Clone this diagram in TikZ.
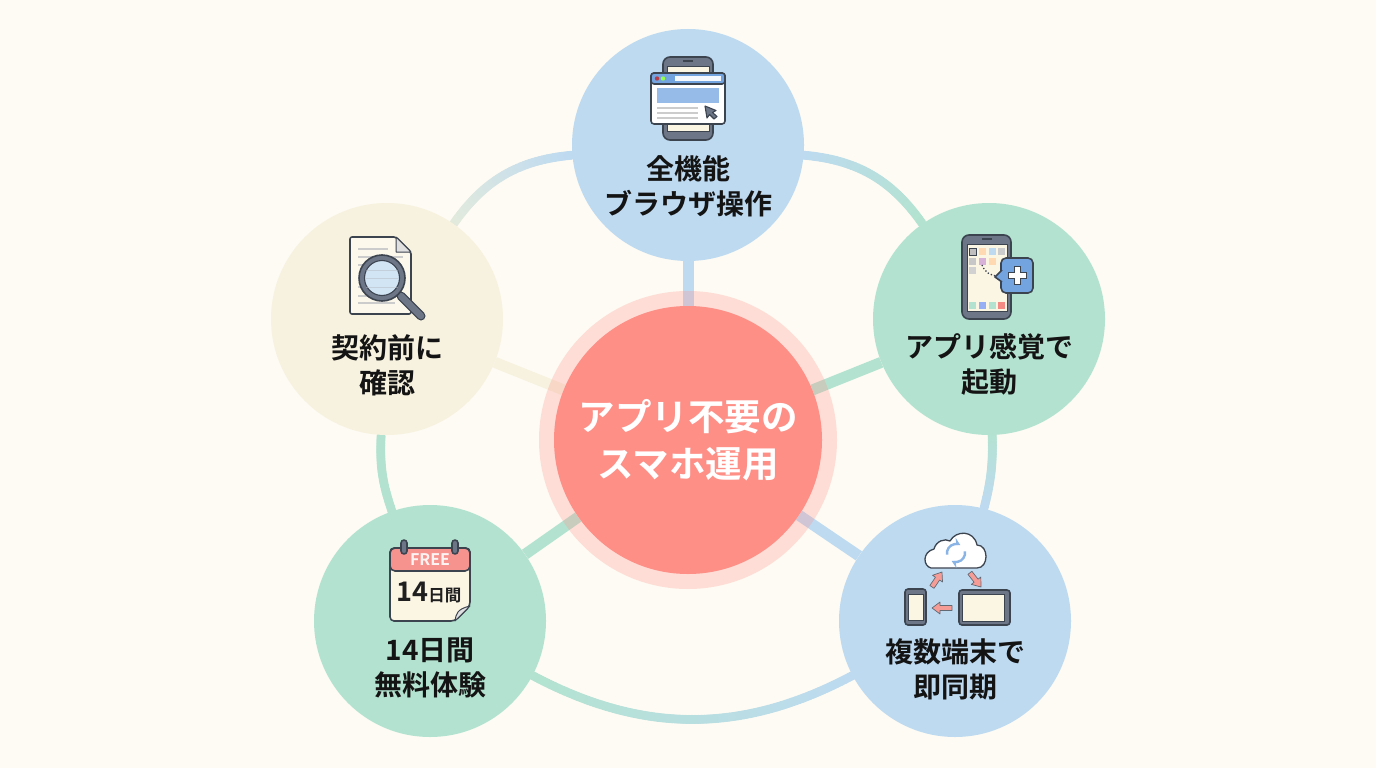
\documentclass[tikz,border=0pt]{standalone}
\usepackage{fontspec}
\setmainfont{Noto Sans CJK JP}[BoldFont=* Bold]
\usetikzlibrary{positioning,backgrounds,decorations.markings,calc}
\definecolor{pagebg}{HTML}{FDFBF3}
\definecolor{hubred}{HTML}{FE8F87}
\definecolor{skyfill}{HTML}{BEDAF1}
\definecolor{mintfill}{HTML}{B3E3D0}
\definecolor{creamfill}{HTML}{F7F2DF}
\definecolor{palering}{HTML}{E4EBDC}
\definecolor{inkline}{HTML}{3C4450}
\definecolor{slate}{HTML}{6D7687}
\definecolor{paper}{HTML}{FBF5E4}
\definecolor{barblue}{HTML}{74A4E0}
\definecolor{softred}{HTML}{F58A84}
\tikzset{
  x=1pt,y=-1pt,
  petal/.style={circle,minimum size=232pt,inner sep=0pt},
  petaltext/.style={align=center,font=\bfseries\fontsize{28}{35}\selectfont,text=black!92},
  icon/.style={draw=inkline,line width=1.6pt,line join=round},
  thinrule/.style={line width=1.6pt,draw=black!20},
  spoke/.style={line width=11pt},
  arrowmark/.style={fill=softred!85,draw=inkline!80,line width=.7pt,line join=round},
  % ring piece whose colour runs from #1 to #2
  ringpart/.style n args={2}{
    decorate,decoration={markings,
      mark=between positions 0 and 1 step 1.5pt with {
        \pgfmathsetmacro{\mixval}{min(100,\pgfkeysvalueof{/pgf/decoration/mark info/sequence number}*1.5/\pgfdecoratedpathlength*100)}
        \fill[#2!\mixval!#1] (0,0) circle[radius=4.5];
      }}},
}
\newcommand{\fatarrow}[1]{(0,0) -- (-8,-6) -- (-8,-2.500) -- (-#1,-2.500) -- (-#1,2.500) -- (-8,2.500) -- (-8,6) -- cycle}
\begin{document}
\begin{tikzpicture}
  \useasboundingbox (0,0) rectangle (1376,768);
  \begin{scope}[on background layer]
    \fill[pagebg] (0,0) rectangle (1376,768);
  \end{scope}

  \node[circle,fill=hubred,fill opacity=.27,minimum size=298pt,inner sep=0pt] (halo) at (688,440) {};
  \node[circle,fill=hubred,minimum size=268pt,inner sep=0pt,text=white,align=center,
        font=\bfseries\fontsize{36.5}{47}\selectfont] (hub) at (688,440) {アプリ不要の\\スマホ運用};

  \node[petal,fill=skyfill] (browser) at (688,145) {};
  \node[petal,fill=mintfill] (launch) at (989,319) {};
  \node[petal,fill=skyfill] (sync) at (955,621) {};
  \node[petal,fill=mintfill] (trial) at (430,621) {};
  \node[petal,fill=creamfill] (check) at (387,319) {};

  \node[petaltext] (browsertext) at (688,186) {全機能\\ブラウザ操作};
  \node[petaltext] (launchtext) at (989,364.500) {アプリ感覚で\\起動};
  \node[petaltext] (synctext) at (955,669) {複数端末で\\即同期};
  \node[petaltext] (trialtext) at (430,668) {14日間\\無料体験};
  \node[petaltext] (checktext) at (387,365) {契約前に\\確認};

  \begin{scope}[on background layer]
    \path[postaction={ringpart={skyfill}{mintfill}}] (browser) to[bend left=25] (launch);
    \path[postaction={ringpart={mintfill}{skyfill}}] (launch) to[bend left=8] (sync);
    \path[postaction={ringpart={skyfill}{mintfill}}] (sync) to[bend left=28] (trial);
    \path[postaction={ringpart={mintfill}{mintfill}}] (trial) to[bend left=11] (check);
    \path[postaction={ringpart={palering}{skyfill}}] (check) to[bend left=25] (browser);
  \end{scope}

  \begin{scope}[on background layer]
    \draw[spoke,skyfill] (browser) -- (hub);
    \draw[spoke,mintfill] (launch) -- (hub);
    \draw[spoke,skyfill] (sync) -- (hub);
    \draw[spoke,mintfill] (trial) -- (hub);
    \draw[spoke,creamfill] (check) -- (hub);
  \end{scope}

  % phone with browser window
  \draw[icon,fill=slate,rounded corners=7] (663,57) rectangle (713,140);
  \draw[icon,fill=paper,line width=1pt] (667,67) rectangle (709,131);
  \draw[line width=1.6pt,inkline] (683,61) -- (693,61);
  \draw[icon,fill=white,rounded corners=3] (651,73) rectangle (725,124);
  \draw[icon,fill=barblue,rounded corners=3] (651,73) rectangle (725,84);
  \fill[white!85!skyfill] (675,76) rectangle (721,81);
  \fill[red!50!slate] (657,78.500) circle[radius=2.200];
  \fill[green!60!yellow!70!white] (663,78.500) circle[radius=2.200];
  \fill[barblue!75!white] (657,88) rectangle (719,103);
  \foreach \ypos in {108,113,118}
    \draw[thinrule] (657,\ypos) -- (698,\ypos);
  \draw[icon,fill=slate,line width=1.1pt] (705,106) -- (707,118) -- (709.500,114.500) -- (714,119) -- (717,116.500) -- (712.500,112.500) -- (716,110.500) -- cycle;

  % phone with plus bubble
  \draw[icon,fill=slate,rounded corners=7] (962,235) rectangle (1011,319);
  \draw[icon,fill=paper,line width=1pt] (967,244) rectangle (1007,311);
  \draw[line width=1.6pt,inkline] (982,239) -- (992,239);
  \draw[line width=.9pt,inkline,fill=black!25] (969,248) rectangle (976,255);
  \fill[orange!30] (979,248) rectangle (986,255);
  \fill[skyfill] (989,248) rectangle (996,255);
  \fill[black!20] (998,248) rectangle (1005,255);
  \fill[black!22] (969,258) rectangle (976,265);
  \fill[violet!30] (979,258) rectangle (986,265);
  \fill[orange!30] (989,258) rectangle (996,265);
  \fill[black!18] (969,267) rectangle (976,274);
  \fill[mintfill] (969,302) rectangle (976,309);
  \fill[skyfill!80!blue] (979,302) rectangle (986,309);
  \fill[mintfill] (989,302) rectangle (996,309);
  \fill[softred] (998,302) rectangle (1005,309);
  \draw[line width=1.3pt,inkline,dotted] (982,265) .. controls (985,273) and (991,275) .. (996,276);
  \draw[icon,fill=barblue,rounded corners=5] (1001,258) rectangle (1033,293);
  \draw[icon,fill=barblue] (1002,270) -- (995,277) -- (1002,282);
  \fill[barblue] (1002.500,268) rectangle (1006,284);
  \draw[line width=7.500pt,draw=inkline] (1017.500,266) -- (1017.500,285) (1008,275.500) -- (1027,275.500);
  \draw[line width=4.500pt,draw=white] (1017.500,267) -- (1017.500,284) (1009,275.500) -- (1026,275.500);

  % cloud and two screens
  \draw[icon,fill=white,line width=1.3pt] (931,568) .. controls (923,566) and (922,552) .. (934,549)
    .. controls (936,541) and (945,538) .. (950,541) .. controls (956,530) and (974,530) .. (977,545)
    .. controls (989,545) and (989,568) .. (977,568) -- cycle;
  \draw[line width=2.4pt,barblue!70!skyfill,->,>=stealth] (947.100,554.600) arc[start angle=170,end angle=300,radius=9];
  \draw[line width=2.4pt,barblue!70!skyfill,->,>=stealth] (964.900,551.400) arc[start angle=-10,end angle=120,radius=9];
  \draw[icon,fill=slate,rounded corners=3] (905,589) rectangle (926,625);
  \draw[fill=paper,draw=inkline,line width=.8pt] (908,594) rectangle (923,620);
  \draw[icon,fill=slate,rounded corners=3] (959,590) rectangle (1010,625);
  \draw[fill=paper,draw=inkline,line width=.8pt] (962,594) rectangle (1004,621);
  \draw[arrowmark,shift={(932,608)},rotate=180] \fatarrow{20};
  \draw[arrowmark,shift={(942,572)},rotate=56] \fatarrow{18};
  \draw[arrowmark,shift={(981,587)},rotate=-52] \fatarrow{18};

  % calendar
  \draw[icon,fill=paper,rounded corners=4] (390,548) -- (470,548) -- (470,606) -- (455,621) -- (390,621) -- cycle;
  \draw[icon,fill=softred!92!white,rounded corners=5] (390,571) -- (390,548) -- (470,548) -- (470,571) -- cycle;
  \draw[icon,fill=black!12,line width=1pt] (455,621) .. controls (456,614) and (457,609) .. (470,606) -- cycle;
  \foreach \xpos in {404,455}
    \draw[icon,fill=slate,rounded corners=3] (\xpos-3,540) rectangle (\xpos+3,554);
  \node[text=white!90!softred,font=\bfseries\fontsize{16}{16}\selectfont] (freetext) at (430,560) {FREE};
  \node[text=black!88,font=\bfseries\fontsize{27}{27}\selectfont,inner sep=0pt] (daytext) at (429,593)
    {14\fontsize{16.500}{16.500}\selectfont 日間};

  % document under a magnifier
  \draw[icon,fill=paper!70!white,rounded corners=2] (350,237) -- (396,237) -- (411,252) -- (411,314) -- (350,314) -- cycle;
  \draw[icon,fill=black!12,line width=1pt] (396,237) -- (396,252) -- (411,252) -- cycle;
  \foreach \ypos/\xend in {249/388,257/403,265/385,287/365,296/403,303/395}
    \draw[thinrule] (358,\ypos) -- (\xend,\ypos);
  \draw[line width=9pt,inkline,line cap=round] (401,296) -- (421,316);
  \draw[line width=6.500pt,slate,line cap=round] (401,296) -- (421,316);
  \draw[icon,fill=slate] (382,278) circle[radius=23];
  \draw[icon,fill=skyfill!70!white,line width=1.1pt] (382,278) circle[radius=17.500];
  \foreach \ypos in {270,278,287}
    \draw[line width=1pt,white!50!slate,opacity=.5] (366,\ypos) -- (398,\ypos);
\end{tikzpicture}
\end{document}
